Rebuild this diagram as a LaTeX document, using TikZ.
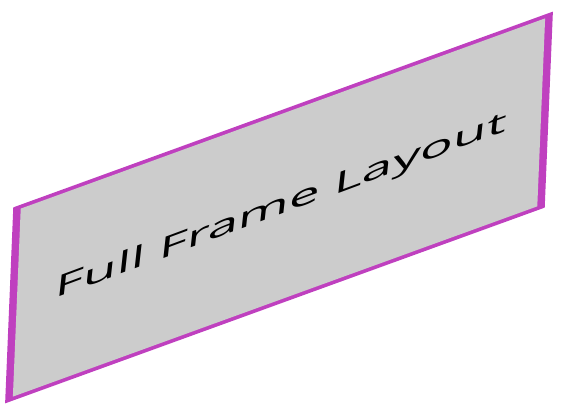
\documentclass[tikz,border=0pt]{standalone}
\usepackage{fontspec}
\newfontfamily\labelfont{Open Sans}
\definecolor{framepurple}{RGB}{191,64,191}
\definecolor{framegray}{RGB}{204,204,204}
\tikzset{
  framebox/.style={cm={1,0.3628,0.04167,1,(9pt,15pt)}},
  labeltext/.style={transform shape, anchor=base, inner sep=0pt, font=\labelfont\fontsize{30}{35}\selectfont, text=black}
}
\begin{document}
\begin{tikzpicture}[x=1pt,y=1pt]
\useasboundingbox (0,0) rectangle (562,415);
\begin{scope}[framebox]
  \fill[framepurple] (-3.8,-2.0) rectangle (535.8,194.0);
  \fill[framegray] (3.8,2.0) rectangle (528.2,190.0);
\end{scope}
\begin{scope}[cm={1.82,0.677,0.11,1,(280pt,200pt)}]
  \node[labeltext] (label) at (0,0) {Full Frame Layout};
\end{scope}
\end{tikzpicture}
\end{document}
